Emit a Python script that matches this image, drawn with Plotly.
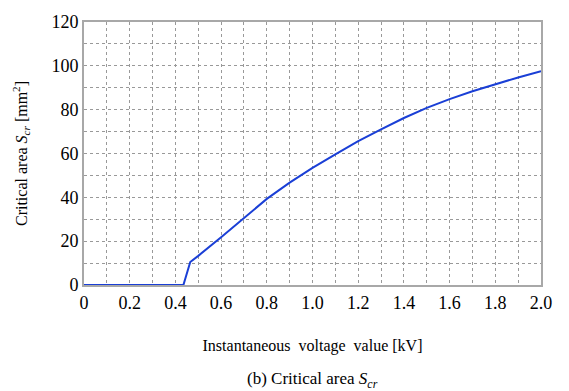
import plotly.graph_objects as go

voltage_kv = [0, 0.435, 0.465, 0.5, 0.6, 0.7, 0.8, 0.9, 1.0, 1.1, 1.2, 1.3, 1.4, 1.5, 1.6, 1.7, 1.8, 1.9, 2.0]
critical_area = [0, 0, 10.5, 13.3, 21.8, 30.6, 39.3, 46.7, 53.4, 59.6, 65.6, 71.0, 76.2, 80.8, 84.8, 88.4, 91.6, 94.7, 97.6]
x_ticks = [round(i * 0.1, 1) for i in range(21)]
x_tick_text = ["0", "", "0.2", "", "0.4", "", "0.6", "", "0.8", "", "1.0", "",
               "1.2", "", "1.4", "", "1.6", "", "1.8", "", "2.0"]
y_ticks = list(range(0, 121, 10))
y_tick_text = ["0", "", "20", "", "40", "", "60", "", "80", "", "100", "", "120"]

FONT = "'Liberation Serif', 'DejaVu Serif', serif"

fig = go.Figure()
fig.add_trace(go.Scatter(x=voltage_kv, y=critical_area, mode="lines",
                         line=dict(color="#1a3fd6", width=2), showlegend=False))

fig.update_layout(
    width=569, height=391,
    margin=dict(l=84, r=28, t=13, b=106),
    paper_bgcolor="white", plot_bgcolor="white",
)
fig.update_xaxes(
    range=[0, 2.0], tickvals=x_ticks, ticktext=x_tick_text,
    showgrid=True, gridcolor="#999999", griddash="dot", gridwidth=1,
    showline=True, linecolor="#a8a8a8", linewidth=2, mirror=True,
    zeroline=False, ticks="", tickfont=dict(size=18, family=FONT, color="black"),
    title=dict(text="Instantaneous\u00a0 voltage\u00a0 value [kV]", font=dict(size=16, family=FONT, color="black"), standoff=28),
)
fig.update_yaxes(
    range=[0, 120], tickvals=y_ticks, ticktext=y_tick_text,
    showgrid=True, gridcolor="#999999", griddash="dot", gridwidth=1,
    showline=True, linecolor="#a8a8a8", linewidth=2, mirror=True,
    zeroline=False, ticks="", tickfont=dict(size=18, family=FONT, color="black"),
    title=dict(text="Critical area <i>S</i><sub><i>cr</i></sub> [mm<sup>2</sup>]", font=dict(size=16, family=FONT, color="black"), standoff=20),
)
fig.add_annotation(text="(b) Critical area <i>S</i><sub><i>cr</i></sub>", xref="paper", yref="paper",
                   x=0.5, y=-0.36, xanchor="center", yanchor="middle", showarrow=False,
                   font=dict(size=17, family=FONT, color="black"))
fig.write_html("out.html")
